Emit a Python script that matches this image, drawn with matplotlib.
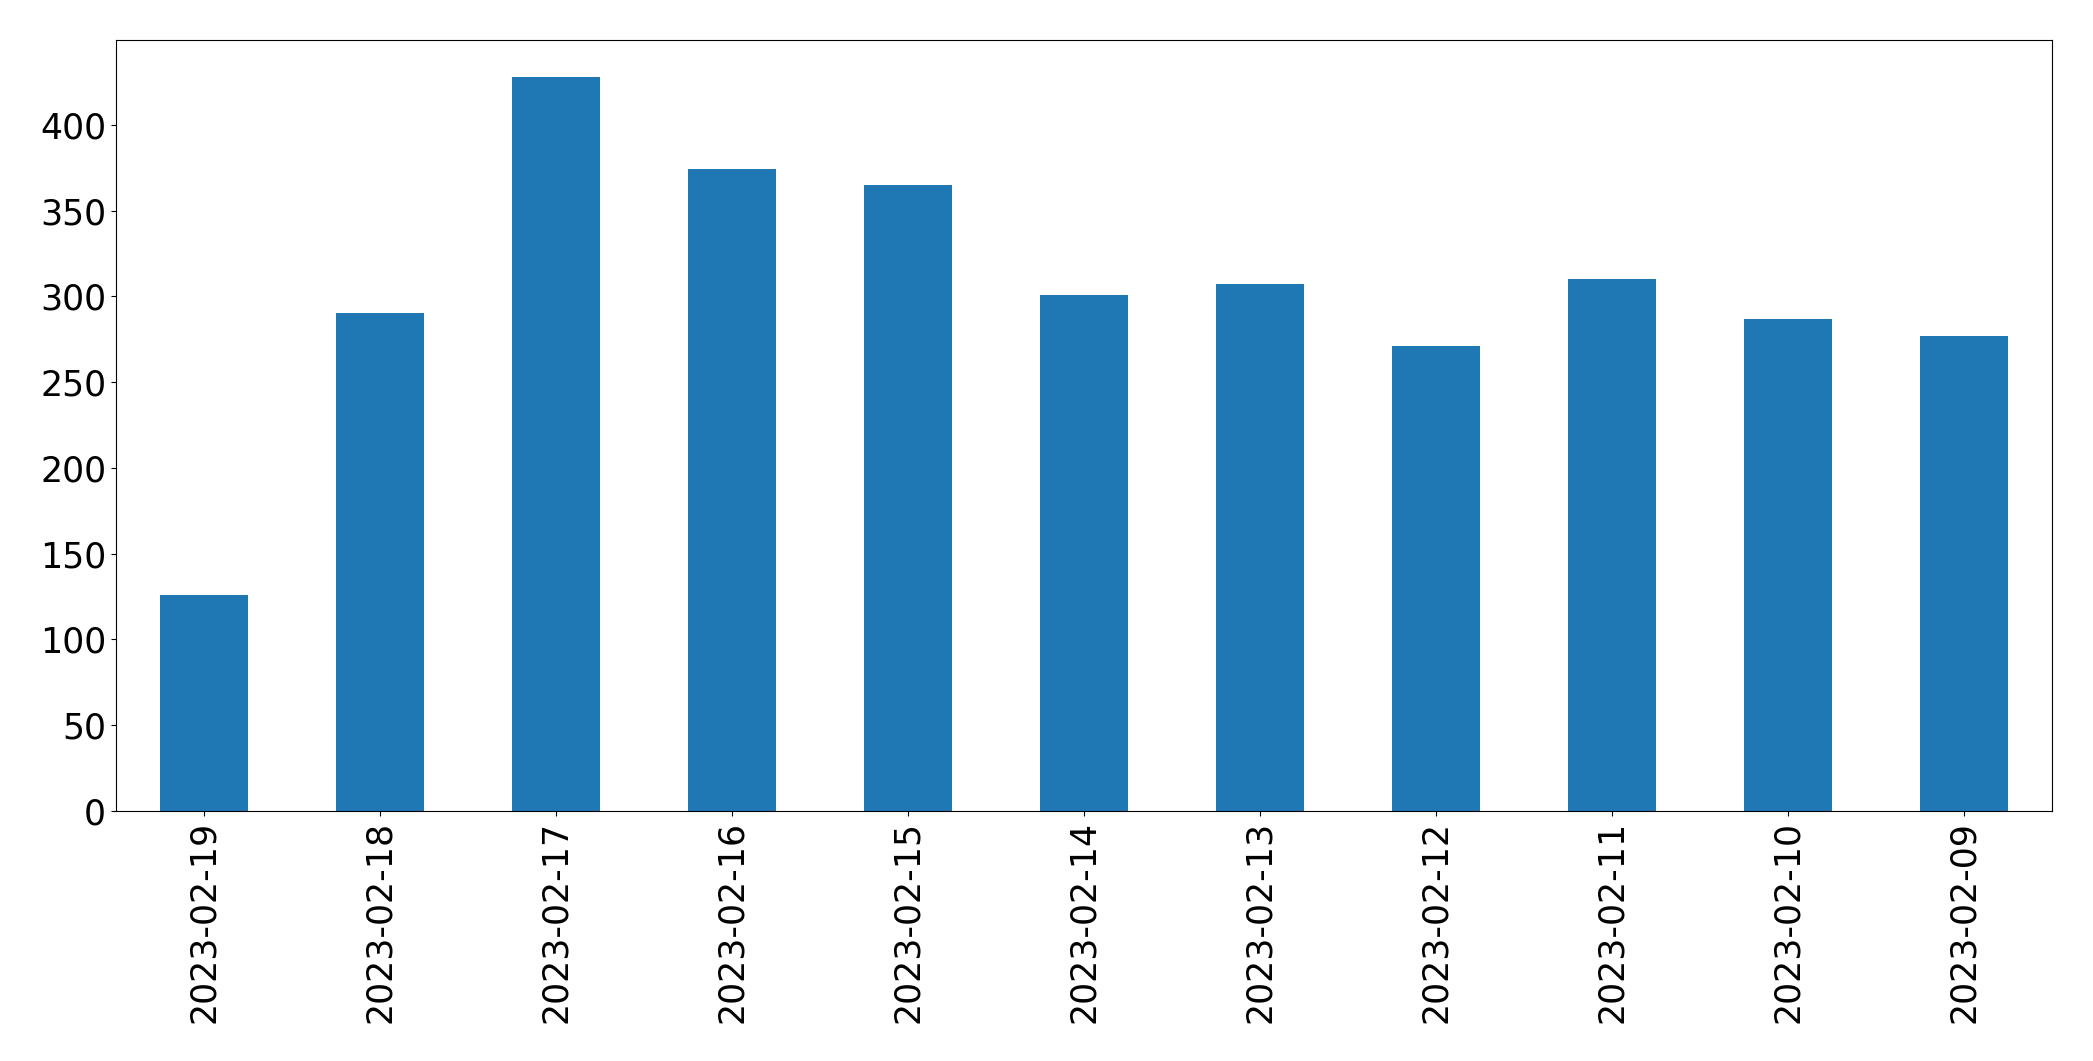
import matplotlib
matplotlib.use('Agg')
import matplotlib.pyplot as plt
import pandas as pd

# daily counts, newest first (as in the reference)
dates = ['2023-02-19', '2023-02-18', '2023-02-17', '2023-02-16', '2023-02-15',
         '2023-02-14', '2023-02-13', '2023-02-12', '2023-02-11', '2023-02-10',
         '2023-02-09']
counts = [126, 290, 428, 374, 365, 301, 307, 271, 310, 287, 277]

series = pd.Series(counts, index=dates)

fig = plt.figure(figsize=(20.93, 10.61), dpi=100)
ax = fig.add_axes([0.0554, 0.2356, 0.925, 0.7267])
series.plot(kind='bar', ax=ax, color='#1f77b4', fontsize=25)

plt.savefig('out.png', dpi=100)
plt.close()
